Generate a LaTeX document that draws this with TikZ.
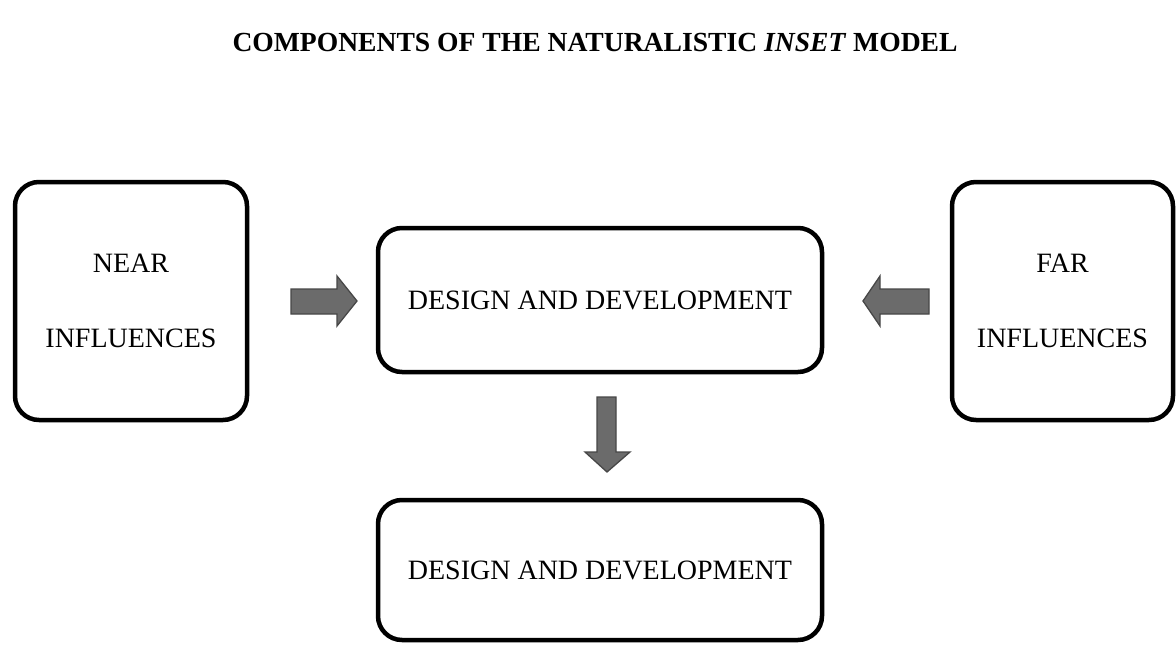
\documentclass[tikz,border=0pt]{standalone}
\usepackage{fontspec}
\setmainfont{Liberation Serif}

\tikzset{
  box/.style={draw=black, line width=4.5pt, rounded corners=24pt, fill=white,
              align=center, inner sep=0pt,
              font=\fontsize{28}{75}\selectfont},
  blockarrow/.style={draw=black!72, fill=black!58, line width=1.3pt,
              line join=miter},
}

\begin{document}
\begin{tikzpicture}[x=1pt,y=-1pt]
  \useasboundingbox (0,0) rectangle (1176,645);
  \fill[white] (0,0) rectangle (1176,645);

  % heading
  \node (title) at (595,42) {\fontsize{27.6}{30}\selectfont\bfseries
    COMPONENTS OF THE NATURALISTIC \textit{INSET} MODEL};

  % the four boxes
  \node[box, minimum width=232pt, minimum height=238pt] (near) at (131,301)
    {NEAR\\INFLUENCES};
  \node[box, minimum width=444pt, minimum height=144pt] (dd) at (600,300)
    {DESIGN AND DEVELOPMENT};
  \node[box, minimum width=221pt, minimum height=238pt] (far) at (1062.5,301)
    {FAR\\INFLUENCES};
  \node[box, minimum width=444pt, minimum height=140pt] (dd2) at (600,570)
    {DESIGN AND DEVELOPMENT};

  % block arrows between the boxes, each drawn round its centre point
  \coordinate (a1) at (324,301);
  \coordinate (a2) at (896,301);
  \coordinate (a3) at (607,434);
  \draw[blockarrow, shift={(a1)}]
    (-33,-12) -- (13,-12) -- (13,-25) -- (33,0) -- (13,25) -- (13,13)
    -- (-33,13) -- cycle;
  \draw[blockarrow, shift={(a2)}]
    (33,-12) -- (-16,-12) -- (-16,-25) -- (-33,0) -- (-16,25) -- (-16,13)
    -- (33,13) -- cycle;
  \draw[blockarrow, shift={(a3)}]
    (-10,-37) -- (9,-37) -- (9,18) -- (23,18) -- (0,38) -- (-22,18)
    -- (-10,18) -- cycle;
\end{tikzpicture}
\end{document}
